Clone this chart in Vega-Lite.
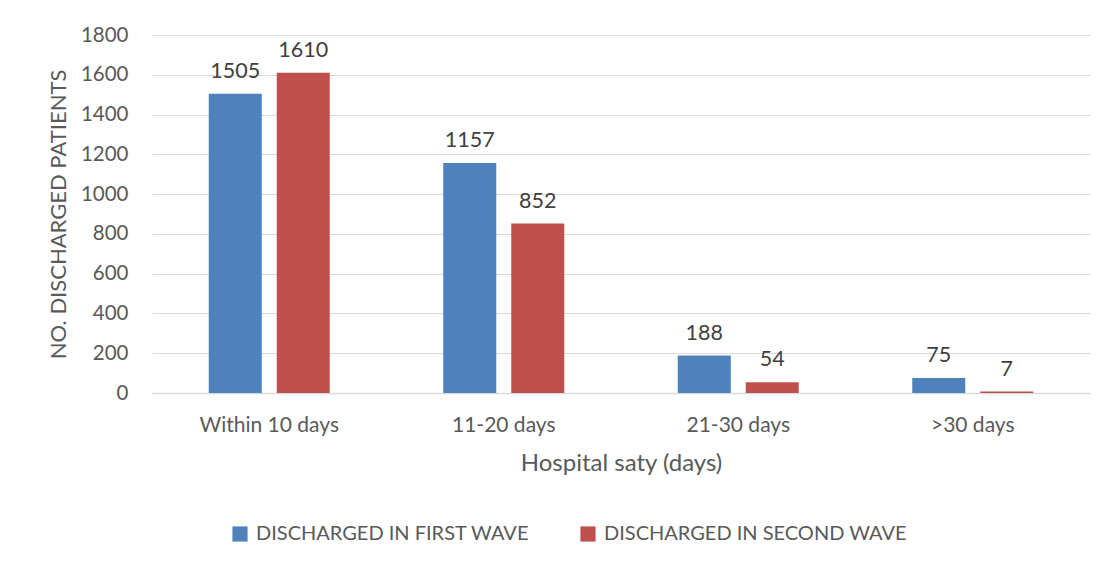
{
  "$schema": "https://vega.github.io/schema/vega-lite/v6.json",
  "width": 938,
  "height": 358,
  "autosize": "none",
  "padding": {"left": 152, "top": 35, "right": 27, "bottom": 177},
  "background": "white",
  "config": {
    "font": "Lato",
    "view": {"stroke": null},
    "axis": {"labelFont": "Lato", "titleFont": "Lato", "labelColor": "#595959", "titleColor": "#595959", "titleFontWeight": "normal"}
  },
  "data": {
    "values": [
      {"stay": "Within 10 days", "wave": "DISCHARGED IN FIRST WAVE", "count": 1505},
      {"stay": "Within 10 days", "wave": "DISCHARGED IN SECOND WAVE", "count": 1610},
      {"stay": "11-20 days", "wave": "DISCHARGED IN FIRST WAVE", "count": 1157},
      {"stay": "11-20 days", "wave": "DISCHARGED IN SECOND WAVE", "count": 852},
      {"stay": "21-30 days", "wave": "DISCHARGED IN FIRST WAVE", "count": 188},
      {"stay": "21-30 days", "wave": "DISCHARGED IN SECOND WAVE", "count": 54},
      {"stay": ">30 days", "wave": "DISCHARGED IN FIRST WAVE", "count": 75},
      {"stay": ">30 days", "wave": "DISCHARGED IN SECOND WAVE", "count": 7}
    ]
  },
  "encoding": {
    "x": {
      "field": "stay", "type": "nominal",
      "sort": ["Within 10 days", "11-20 days", "21-30 days", ">30 days"],
      "scale": {"paddingInner": 0.484, "paddingOuter": 0.242},
      "axis": {
        "title": "Hospital saty (days)", "titleFontSize": 24, "titlePadding": 16,
        "labelAngle": 0, "labelFontSize": 21, "labelPadding": 21,
        "ticks": false, "domainColor": "#d9d9d9", "domainWidth": 1.5, "grid": false
      }
    },
    "xOffset": {"field": "wave", "type": "nominal", "scale": {"paddingInner": 0.22}},
    "y": {
      "field": "count", "type": "quantitative",
      "scale": {"domain": [0, 1800], "nice": false},
      "axis": {
        "title": "NO. DISCHARGED PATIENTS", "titleFontSize": 22, "titlePadding": 10,
        "values": [0, 200, 400, 600, 800, 1000, 1200, 1400, 1600, 1800],
        "format": "d",
        "labelFontSize": 20.5, "labelPadding": 24, "ticks": false, "domain": false,
        "gridColor": "#d9d9d9", "gridWidth": 1.2
      }
    }
  },
  "layer": [
    {
      "mark": {"type": "bar"},
      "encoding": {
        "color": {
          "field": "wave", "type": "nominal",
          "scale": {"range": ["#4F81BD", "#C0504D"]},
          "legend": {
            "title": null, "orient": "none", "direction": "horizontal",
            "legendX": 78, "legendY": 489,
            "symbolType": "square", "symbolSize": 230, "symbolStrokeWidth": 0,
            "labelFontSize": 20, "labelColor": "#595959", "labelFont": "Lato",
            "labelLimit": 0, "columnPadding": 48, "labelOffset": 6
          }
        }
      }
    },
    {
      "mark": {"type": "text", "baseline": "bottom", "dy": -11, "fontSize": 21.5, "color": "#404040", "font": "Lato"},
      "encoding": {"text": {"field": "count", "type": "quantitative"}}
    }
  ]
}
